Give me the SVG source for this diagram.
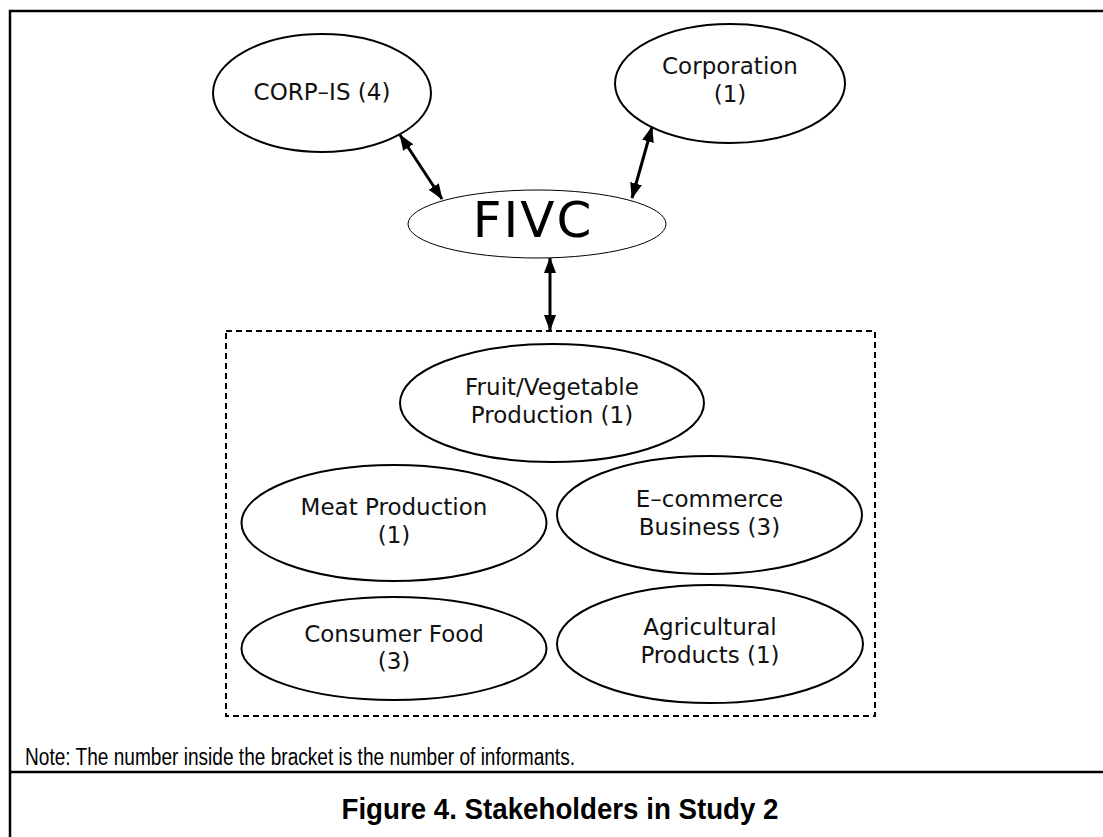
<svg xmlns="http://www.w3.org/2000/svg" width="1103" height="837" viewBox="0 0 1103 837">
<style>
.frame{fill:none;stroke:#000;stroke-width:2.5}
.node{fill:#fff;stroke:#000;stroke-width:2}
.thin{fill:#fff;stroke:#000;stroke-width:1}
.lbl{font-family:"DejaVu Sans",sans-serif;font-size:23px;fill:#111;text-anchor:middle}
.big{font-family:"DejaVu Sans",sans-serif;font-size:50px;letter-spacing:2px;fill:#000;text-anchor:middle}
.conn{stroke:#000;stroke-width:3;fill:none}
.dash{fill:none;stroke:#000;stroke-width:2;stroke-dasharray:6 4}
.note{font-family:"Liberation Sans",sans-serif;font-size:23px;fill:#000}
.cap{font-family:"Liberation Sans",sans-serif;font-size:29px;font-weight:bold;fill:#000;text-anchor:middle}
</style>
<defs>
<marker id="ah" viewBox="0 0 16 12" refX="15" refY="6" markerWidth="16" markerHeight="12" markerUnits="userSpaceOnUse" orient="auto-start-reverse">
<path d="M0,0 L16,6 L0,12 z" fill="#000"/>
</marker>
</defs>
<rect width="1103" height="837" fill="#fff"/>
<g id="frame">
<path class="frame" d="M1103,11 H10 V837"/>
<path class="frame" d="M10,772 H1103"/>
</g>
<g id="group-box">
<rect class="dash" x="226" y="331" width="649" height="385"/>
</g>
<g id="connectors">
<line class="conn" x1="400" y1="135" x2="442" y2="199" marker-start="url(#ah)" marker-end="url(#ah)"/>
<line class="conn" x1="652" y1="127" x2="632" y2="198" marker-start="url(#ah)" marker-end="url(#ah)"/>
<line class="conn" x1="550" y1="258" x2="550" y2="330" marker-start="url(#ah)" marker-end="url(#ah)"/>
</g>
<g id="corp-is">
<ellipse class="node" cx="322" cy="93" rx="109" ry="59"/>
<text class="lbl" x="322" y="100">CORP–IS (4)</text>
</g>
<g id="corporation">
<ellipse class="node" cx="730" cy="83.5" rx="115" ry="59.5"/>
<text class="lbl" x="730" y="74">Corporation</text>
<text class="lbl" x="730" y="102">(1)</text>
</g>
<g id="fivc">
<ellipse class="thin" cx="537" cy="224" rx="129" ry="34"/>
<text class="big" x="533" y="237">FIVC</text>
</g>
<g id="fruit-veg">
<ellipse class="node" cx="552" cy="403" rx="152" ry="59"/>
<text class="lbl" x="552" y="395">Fruit/Vegetable</text>
<text class="lbl" x="552" y="423">Production (1)</text>
</g>
<g id="meat">
<ellipse class="node" cx="394" cy="523" rx="152.5" ry="58"/>
<text class="lbl" x="394" y="515">Meat Production</text>
<text class="lbl" x="394" y="543">(1)</text>
</g>
<g id="ecommerce">
<ellipse class="node" cx="709.5" cy="515" rx="152.5" ry="59"/>
<text class="lbl" x="709.5" y="507">E–commerce</text>
<text class="lbl" x="709.5" y="535">Business (3)</text>
</g>
<g id="consumer-food">
<ellipse class="node" cx="394" cy="648.5" rx="152.5" ry="51.5"/>
<text class="lbl" x="394" y="642">Consumer Food</text>
<text class="lbl" x="394" y="669">(3)</text>
</g>
<g id="agricultural">
<ellipse class="node" cx="710" cy="644" rx="153" ry="59"/>
<text class="lbl" x="710" y="635">Agricultural</text>
<text class="lbl" x="710" y="663">Products (1)</text>
</g>
<text class="note" x="25" y="765" textLength="550" lengthAdjust="spacingAndGlyphs">Note: The number inside the bracket is the number of informants.</text>
<text class="cap" x="560" y="819" textLength="437" lengthAdjust="spacingAndGlyphs">Figure 4. Stakeholders in Study 2</text>
</svg>
